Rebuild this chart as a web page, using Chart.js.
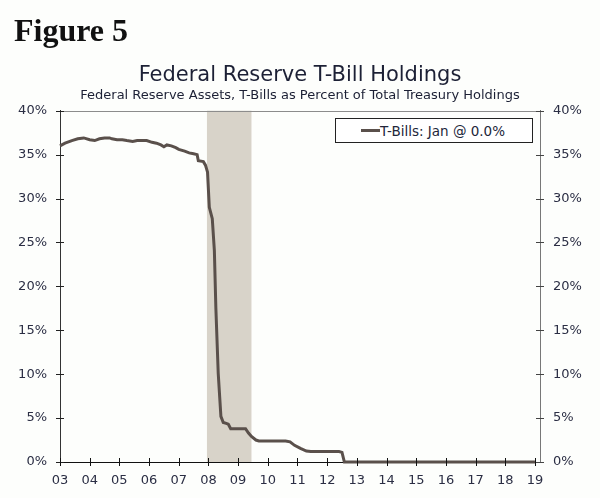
<!DOCTYPE html>
<html>
<head>
<meta charset="utf-8">
<script src="https://cdn.jsdelivr.net/npm/chart.js@4.4.0/dist/chart.umd.min.js"></script>
<style>
  html, body { margin: 0; padding: 0; background: #fdfefc; }
  #wrap { position: relative; width: 600px; height: 498px; }
  #fig { position: absolute; left: 14px; top: 12px; font: bold 32px "Liberation Serif", serif; color: #111; }
  #legend { position: absolute; left: 335px; top: 118px; width: 196px; height: 23px; border: 1px solid #222;
            background: #fff; font: 13.5px "DejaVu Sans", sans-serif; color: #22263a; display: flex; align-items: center; }
  #legend .swatch { display: inline-block; width: 19px; height: 3px; margin-left: 25px; }
</style>
</head>
<body>
<div id="wrap">
  <canvas id="myChart"></canvas>
  <div id="fig">Figure 5</div>
  <div id="legend"><span class="swatch"></span><span class="txt"></span></div>
</div>
<script>
// fed t-bill share of treasury holdings
const years = [2003.0, 2003.17, 2003.4, 2003.6, 2003.8, 2004.0, 2004.17, 2004.33, 2004.5, 2004.67, 2004.75, 2004.92,
  2005.1, 2005.25, 2005.45, 2005.6, 2005.75, 2005.92, 2006.1, 2006.25, 2006.4, 2006.5, 2006.6, 2006.75, 2006.9,
  2007.0, 2007.2, 2007.35, 2007.5, 2007.62, 2007.66, 2007.83, 2007.9, 2007.97, 2008.03, 2008.13, 2008.2, 2008.25,
  2008.33, 2008.42, 2008.5, 2008.6, 2008.67, 2008.75, 2009.25, 2009.35, 2009.45, 2009.6, 2009.7, 2010.6, 2010.75,
  2010.9, 2011.1, 2011.3, 2011.45, 2012.4, 2012.5, 2012.58, 2019.0];
const tbillPct = [36.0, 36.3, 36.6, 36.8, 36.9, 36.7, 36.6, 36.8, 36.9, 36.9, 36.8, 36.7,
  36.7, 36.6, 36.5, 36.6, 36.6, 36.6, 36.4, 36.3, 36.1, 35.9, 36.1, 36.0, 35.8,
  35.6, 35.4, 35.2, 35.1, 35.0, 34.3, 34.2, 33.8, 33.0, 29.0, 27.7, 24.1, 17.6,
  10.1, 5.2, 4.5, 4.4, 4.3, 3.8, 3.8, 3.3, 2.9, 2.5, 2.4, 2.4, 2.3,
  1.9, 1.55, 1.25, 1.2, 1.2, 1.1, 0.0, 0.0];
const recession = [2007.95, 2009.45];
const xTickYears = [2003, 2004, 2005, 2006, 2007, 2008, 2009, 2010, 2011, 2012, 2013, 2014, 2015, 2016, 2017, 2018, 2019];
const seriesLabel = "T-Bills: Jan @ 0.0%";
const lineColor = "#5a504b";

Chart.defaults.font.family = "'DejaVu Sans', sans-serif";
Chart.defaults.color = "#2b2e44";

// shaded recession band behind the line
const recessionBand = {
  id: "recessionBand",
  beforeDatasetsDraw(chart) {
    const { ctx, chartArea: a, scales: { x } } = chart;
    const x0 = x.getPixelForValue(recession[0]);
    const x1 = x.getPixelForValue(recession[1]);
    ctx.save();
    ctx.fillStyle = "rgb(216,211,201)";
    ctx.fillRect(x0, a.top, x1 - x0, a.bottom - a.top);
    ctx.restore();
  }
};

// top rule + tick marks that cross the axis lines
const axisFrame = {
  id: "axisFrame",
  afterDraw(chart) {
    const { ctx, chartArea: a, scales } = chart;
    const seg = (x1, y1, x2, y2) => { ctx.beginPath(); ctx.moveTo(x1, y1); ctx.lineTo(x2, y2); ctx.stroke(); };
    ctx.save();
    ctx.lineWidth = 1;
    ctx.strokeStyle = "#8c8c8c";
    seg(a.left, Math.round(a.top) + 0.5, a.right, Math.round(a.top) + 0.5);
    ctx.strokeStyle = "#222";
    scales.y.ticks.forEach(t => {
      const py = Math.round(scales.y.getPixelForValue(t.value)) + 0.5;
      seg(a.left - 4, py, a.left + 4, py);
    });
    ctx.strokeStyle = "#444";
    scales.y2.ticks.forEach(t => {
      const py = Math.round(scales.y2.getPixelForValue(t.value)) + 0.5;
      seg(a.right - 4, py, a.right + 4, py);
    });
    ctx.strokeStyle = "#111";
    scales.x.ticks.forEach(t => {
      const px = Math.round(scales.x.getPixelForValue(t.value)) + 0.5;
      seg(px, a.bottom - 4, px, a.bottom + 4);
    });
    ctx.restore();
  }
};

const pctAxis = (pos, borderColor) => ({
  position: pos,
  min: 0,
  max: 40,
  grid: { drawOnChartArea: false, drawTicks: false },
  border: { color: borderColor },
  ticks: { stepSize: 5, padding: 13, font: { size: 13 }, callback: v => v + "%" },
  afterFit(s) { s.width = 60; }
});

new Chart(document.getElementById("myChart"), {
  type: "line",
  data: {
    datasets: [{
      label: seriesLabel,
      data: years.map((x, i) => ({ x: x, y: tbillPct[i] })),
      borderColor: lineColor,
      backgroundColor: lineColor,
      borderWidth: 3,
      pointRadius: 0,
      tension: 0,
      clip: false
    }]
  },
  options: {
    responsive: true,
    maintainAspectRatio: false,
    animation: false,
    layout: { padding: 0 },
    scales: {
      x: {
        type: "linear",
        min: 2003,
        max: 2019.17,
        grid: { drawOnChartArea: false, drawTicks: false },
        border: { color: "#111" },
        afterBuildTicks(s) { s.ticks = xTickYears.map(v => ({ value: v })); },
        ticks: { autoSkip: false, maxRotation: 0, padding: 11, font: { size: 13 }, callback: v => String(v).slice(2) },
        afterFit(s) { s.height = 36; }
      },
      y: pctAxis("left", "#333"),
      y2: pctAxis("right", "#777")
    },
    plugins: {
      legend: { display: false },
      tooltip: { enabled: false },
      title: {
        display: true,
        text: "Federal Reserve T-Bill Holdings",
        color: "#1c2035",
        font: { size: 21, weight: "normal" },
        padding: { top: 62.5, bottom: 0 }
      },
      subtitle: {
        display: true,
        text: "Federal Reserve Assets, T-Bills as Percent of Total Treasury Holdings",
        color: "#1c2035",
        font: { size: 13 },
        padding: { top: 0, bottom: 7.4 }
      }
    }
  },
  plugins: [recessionBand, axisFrame]
});

document.querySelector("#legend .swatch").style.background = lineColor;
document.querySelector("#legend .txt").textContent = seriesLabel;
</script>
</body>
</html>
